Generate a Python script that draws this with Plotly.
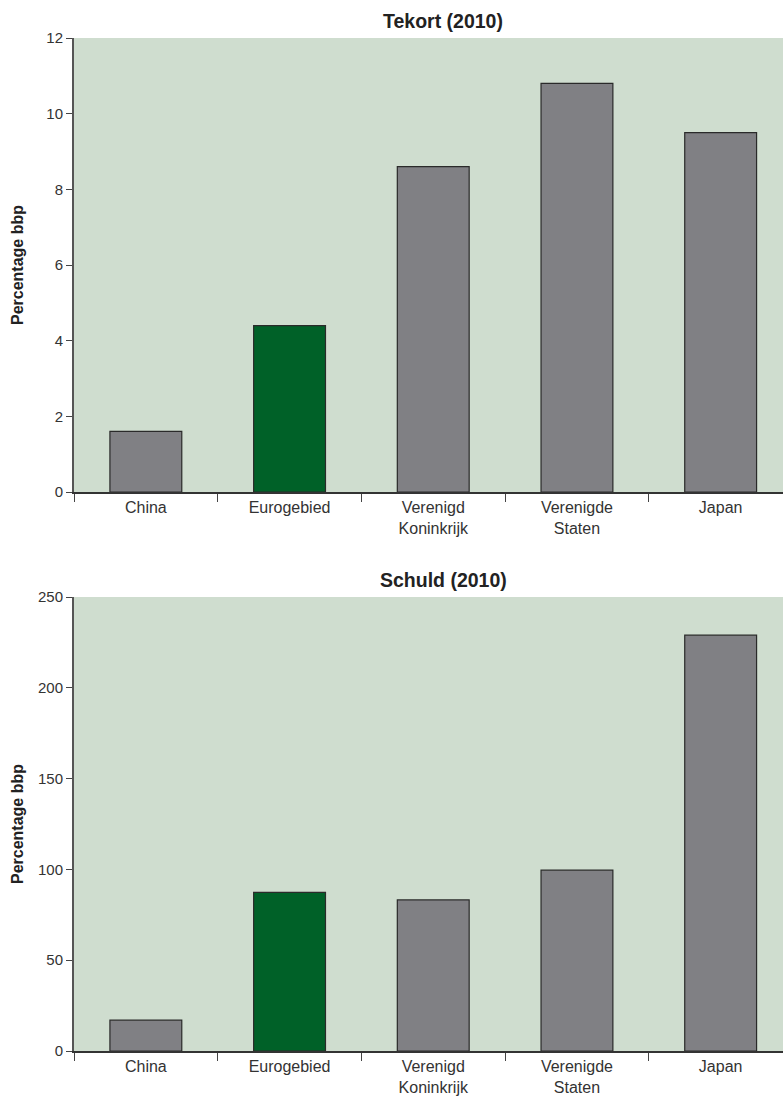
import plotly.graph_objects as go
from plotly.subplots import make_subplots

categories = ["China", "Eurogebied", "Verenigd<br>Koninkrijk", "Verenigde<br>Staten", "Japan"]
tekort_values = [1.6, 4.4, 8.6, 10.8, 9.5]
schuld_values = [17, 87.4, 83.2, 99.6, 229]
bar_colors = ["#808084", "#006128", "#808084", "#808084", "#808084"]
titles = ["Tekort (2010)", "Schuld (2010)"]
y_title = "Percentage bbp"
tekort_ticks = [0, 2, 4, 6, 8, 10, 12]
schuld_ticks = [0, 50, 100, 150, 200, 250]

W, H = 783, 1097
ML, MR, MT, MB = 74, 0, 38, 46
ph = H - MT - MB

fig = make_subplots(rows=2, cols=1)

fig.add_trace(go.Bar(x=categories, y=tekort_values, marker=dict(color=bar_colors, line=dict(color="#2a2a2a", width=1.2)),
                     width=0.5, showlegend=False), row=1, col=1)
fig.add_trace(go.Bar(x=categories, y=schuld_values, marker=dict(color=bar_colors, line=dict(color="#2a2a2a", width=1.2)),
                     width=0.5, showlegend=False), row=2, col=1)

top_dom = [(1051 - 492) / ph, 1.0]
bot_dom = [0.0, 454 / ph]

xr = [-0.5, (W - ML) / 143.7 - 0.5]

common_x = dict(range=xr, tickson="boundaries", ticks="outside", ticklen=8, tickwidth=1.2, tickcolor="#444",
                showline=True, linecolor="#333", linewidth=1.5, showgrid=False, ticklabelstandoff=0,
                automargin=False,
                tickfont=dict(family="Liberation Sans, Arial, sans-serif", size=16, color="#333"))
common_y = dict(ticks="outside", ticklen=6, tickwidth=1.2, tickcolor="#444", showline=True, linecolor="#555",
                linewidth=2, showgrid=False, zeroline=False, automargin=False,
                tickfont=dict(family="Liberation Sans, Arial, sans-serif", size=15, color="#333"))

fig.update_xaxes(common_x, row=1, col=1)
fig.update_xaxes(common_x, row=2, col=1)
fig.update_yaxes(common_y, range=[0, 12], tickvals=tekort_ticks, domain=top_dom, row=1, col=1)
fig.update_yaxes(common_y, range=[0, 250], tickvals=schuld_ticks, domain=bot_dom, row=2, col=1)
fig.update_layout(xaxis=dict(domain=[0, 1]), xaxis2=dict(domain=[0, 1]))

ann = []
for t, dom in zip(titles, [top_dom, bot_dom]):
    ann.append(dict(text="<b>%s</b>" % t, xref="paper", yref="paper", x=(443 - ML) / (W - ML), y=dom[1],
                    yshift=4, xanchor="center", yanchor="bottom", showarrow=False,
                    font=dict(family="Liberation Sans, Arial, sans-serif", size=19.5, color="#222")))
    ann.append(dict(text="<b>%s</b>" % y_title, xref="paper", yref="paper", x=0, xshift=-(ML - 17),
                    y=(dom[0] + dom[1]) / 2, textangle=-90, xanchor="center", yanchor="middle", showarrow=False,
                    font=dict(family="Liberation Sans, Arial, sans-serif", size=16, color="#222")))

fig.update_layout(width=W, height=H, margin=dict(l=ML, r=MR, t=MT, b=MB, autoexpand=False),
                  plot_bgcolor="#cfddcf", paper_bgcolor="white", annotations=ann, bargap=0.5)

fig.write_html("out.html", config={"displayModeBar": False},
               post_script="document.body.style.margin='0';document.body.style.overflow='hidden';")
